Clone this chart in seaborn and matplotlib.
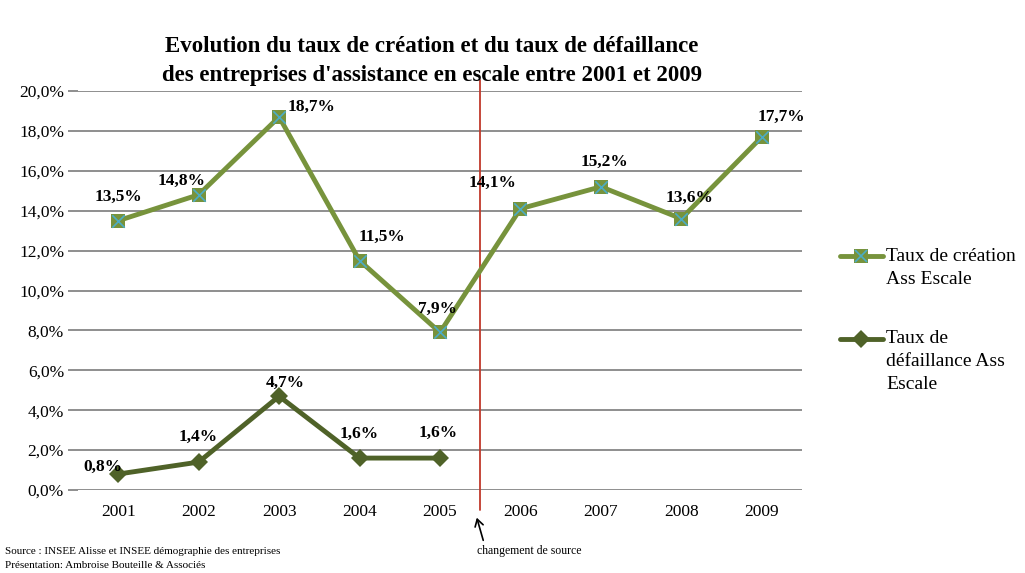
import matplotlib
matplotlib.use("Agg")
import matplotlib.pyplot as plt
import seaborn as sns
import pandas as pd
from matplotlib.lines import Line2D
from matplotlib.legend_handler import HandlerLine2D

years = ['2001', '2002', '2003', '2004', '2005', '2006', '2007', '2008', '2009']
creation = [13.5, 14.8, 18.7, 11.5, 7.9, 14.1, 15.2, 13.6, 17.7]
defaillance = [0.8, 1.4, 4.7, 1.6, 1.6]

# label offsets in pixels (dx, dy) relative to each point
creation_offsets = [(0, 24), (-17, 14), (32, 10), (22, 24), (-2, 24), (-28, 26), (4, 25), (8, 21), (20, 20)]
defaillance_offsets = [(-15, 7), (-1, 25), (6, 13), (0, 24), (-2, 25)]

df_c = pd.DataFrame({'pos': range(len(creation)), 'val': creation})
df_d = pd.DataFrame({'pos': range(len(defaillance)), 'val': defaillance})

sns.set_style("white")
plt.rcParams['font.family'] = ['Liberation Serif', 'DejaVu Serif']
plt.rcParams['text.color'] = 'black'
plt.rcParams['xtick.color'] = 'black'
plt.rcParams['ytick.color'] = 'black'

c_green = '#77933C'
c_dark = '#4F6228'
c_cyan = '#4BACC6'


class RaisedLine(HandlerLine2D):
    # moves the legend handle up so it sits on the first text line
    def __init__(self, dy, **kw):
        super().__init__(**kw)
        self.dy = dy

    def create_artists(self, legend, orig_handle, xdescent, ydescent, width, height, fontsize, trans):
        return super().create_artists(legend, orig_handle, xdescent, ydescent - 2 * self.dy,
                                      width, height, fontsize, trans)


fig = plt.figure(figsize=(10.25, 5.73), dpi=100)
ax = fig.add_axes([78 / 1025, 1 - 490 / 573, (802 - 78) / 1025, (490 - 91) / 573])

sns.lineplot(data=df_c, x='pos', y='val', ax=ax, color=c_green, linewidth=3.5,
             marker='s', markersize=10, markeredgewidth=0, zorder=3)
sns.scatterplot(data=df_c, x='pos', y='val', ax=ax, marker='x', color=c_cyan,
                s=80, linewidth=1.2, zorder=4)
sns.lineplot(data=df_d, x='pos', y='val', ax=ax, color=c_dark, linewidth=3.5,
             marker='D', markersize=9, markeredgewidth=0, zorder=3)

for i, v in enumerate(creation):
    dx, dy = creation_offsets[i]
    ax.annotate(f"{v:.1f}%".replace('.', ','), (i, v), xytext=(dx * 0.72, dy * 0.72),
                textcoords='offset points', ha='center', va='center',
                fontsize=12.5, fontweight='bold', color='black', zorder=5)
for i, v in enumerate(defaillance):
    dx, dy = defaillance_offsets[i]
    ax.annotate(f"{v:.1f}%".replace('.', ','), (i, v), xytext=(dx * 0.72, dy * 0.72),
                textcoords='offset points', ha='center', va='center',
                fontsize=12.5, fontweight='bold', color='black', zorder=5)

ax.set_xlim(-0.5, len(years) - 0.5)
ax.set_ylim(0, 20)
ax.set_xticks(range(len(years)))
ax.set_xticklabels(years, fontsize=12.5)
ax.set_yticks([i * 2 for i in range(11)])
ax.set_yticklabels([f"{i * 2:.1f}%".replace('.', ',') for i in range(11)], fontsize=12.5)
ax.tick_params(axis='y', left=True, length=7, color='#868686', labelcolor='black', width=1.3, pad=3)
ax.tick_params(axis='x', length=0, pad=10)
ax.yaxis.grid(True, color='#868686', linewidth=1.3)
ax.xaxis.grid(False)
for s in ax.spines.values():
    s.set_visible(False)
ax.set_xlabel('')
ax.set_ylabel('')

# change of source marker
ax.plot([4.5, 4.5], [20.55, -1.0], color='#C0392B', linewidth=1.3, clip_on=False, zorder=2)

fig.text(432 / 1025, 1 - 61 / 573,
         "Evolution du taux de création et du taux de défaillance\ndes entreprises d'assistance en escale entre 2001 et 2009",
         ha='center', va='center', fontsize=16.5, fontweight='bold', linespacing=1.45)

fig.text(5 / 1025, 1 - 551 / 573, "Source : INSEE Alisse et INSEE démographie des entreprises",
         fontsize=8, va='center')
fig.text(5 / 1025, 1 - 566 / 573, "Présentation: Ambroise Bouteille & Associés",
         fontsize=8, va='center')
fig.text(529 / 1025, 1 - 551 / 573, "changement de source", fontsize=8.5, ha='center', va='center')
fig.add_artist(matplotlib.patches.FancyArrowPatch(
    (484 / 1025, 1 - 543 / 573), (476 / 1025, 1 - 515 / 573), transform=fig.transFigure,
    arrowstyle='->,head_length=5,head_width=3', color='black', linewidth=1.2))

h1a = Line2D([], [], color=c_green, linewidth=3.5, marker='s', markersize=10, markeredgewidth=0)
h1b = Line2D([], [], linestyle='', marker='x', color=c_cyan, markersize=8, markeredgewidth=1.2)
h2 = Line2D([], [], color=c_dark, linewidth=3.5, marker='D', markersize=9, markeredgewidth=0)
leg = fig.legend([(h1a, h1b), h2], ["Taux de création\nAss Escale", "Taux de\ndéfaillance Ass\nEscale"],
                 loc='upper left', bbox_to_anchor=(832 / 1025, 1 - 240 / 573), frameon=False,
                 fontsize=14, handlelength=2.2, handletextpad=0.2, labelspacing=2.2,
                 borderaxespad=0,
                 handler_map={h1a: RaisedLine(8), h1b: RaisedLine(8), h2: RaisedLine(16)})
for t in leg.get_texts():
    t.set_linespacing(1.45)

fig.savefig('out.png', dpi=100)
